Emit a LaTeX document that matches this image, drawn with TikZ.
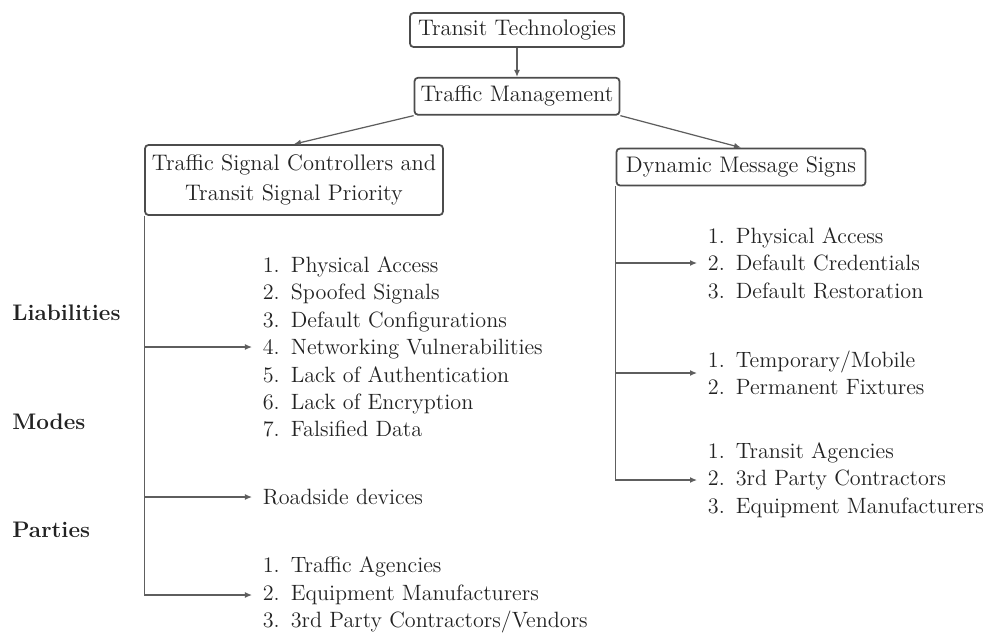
\documentclass[tikz,border=0pt]{standalone}
\usetikzlibrary{arrows.meta,positioning}
\definecolor{edge}{HTML}{5E5E5E}
\definecolor{ink}{HTML}{222222}
\tikzset{
box/.style={draw=black!70,line width=1pt,rounded corners=2pt,align=center,
  font=\fontsize{12.8}{17.2}\selectfont,text=ink},
items/.style={align=left,anchor=west,font=\fontsize{12.6}{15.6}\selectfont,text=ink,
  inner xsep=6pt,inner ysep=0pt},
head/.style={anchor=west,font=\fontsize{12.8}{15}\selectfont\bfseries,text=ink,inner sep=0pt},
arr/.style={-{Latex[length=1.4mm,width=1.2mm]},line width=0.7pt,draw=edge}
}

\begin{document}
\begin{tikzpicture}
\useasboundingbox (-10.34,0.60) rectangle (9.50,-12.06);
\node[box,minimum width=4.28cm,minimum height=0.68cm] (tech) at (0,0) {Transit Technologies};
\node[box,minimum width=4.10cm,minimum height=0.74cm,below=0.58cm of tech] (mgmt) {Traffic Management};
\node[box,minimum width=5.96cm,minimum height=1.40cm] (tsc) at (-4.46,-3.00) {Traffic Signal Controllers and\\Transit Signal Priority};
\node[box,minimum width=4.98cm,minimum height=0.74cm] (dms) at (4.48,-2.74) {Dynamic Message Signs};
% row headings
\node[head] (liab) at (-10.10,-5.66) {Liabilities};
\node[head] (modes) at (-10.10,-7.84) {Modes};
\node[head] (parties) at (-10.10,-10.00) {Parties};
% signal controllers
\node[items] (tscliab) at (-5.30,-6.34) {1.\enspace Physical Access\\2.\enspace Spoofed Signals\\3.\enspace Default Configurations\\4.\enspace Networking Vulnerabilities\\5.\enspace Lack of Authentication\\6.\enspace Lack of Encryption\\7.\enspace Falsified Data};
\node[items] (tscmodes) at (-5.30,-9.34) {Roadside devices};
\node[items] (tscparties) at (-5.30,-11.30) {1.\enspace Traffic Agencies\\2.\enspace Equipment Manufacturers\\3.\enspace 3rd Party Contractors/Vendors};
% message signs
\node[items] (dmsliab) at (3.60,-4.66) {1.\enspace Physical Access\\2.\enspace Default Credentials\\3.\enspace Default Restoration};
\node[items] (dmsmodes) at (3.60,-6.86) {1.\enspace Temporary/Mobile\\2.\enspace Permanent Fixtures};
\node[items] (dmsparties) at (3.60,-9.00) {1.\enspace Transit Agencies\\2.\enspace 3rd Party Contractors\\3.\enspace Equipment Manufacturers};
\draw[arr] (tech) -- (mgmt);
\draw[arr] (mgmt.south west) -- (tsc.north);
\draw[arr] (mgmt.south east) -- (dms.north);
\draw[arr] (tsc.south west) |- (tscliab.west);
\draw[arr] (tsc.south west) |- (tscmodes.west);
\draw[arr] (tsc.south west) |- (tscparties.west);
\draw[arr] (dms.south west) |- (dmsliab.west);
\draw[arr] (dms.south west) |- (dmsmodes.west);
\draw[arr] (dms.south west) |- (dmsparties.west);
\end{tikzpicture}
\end{document}
